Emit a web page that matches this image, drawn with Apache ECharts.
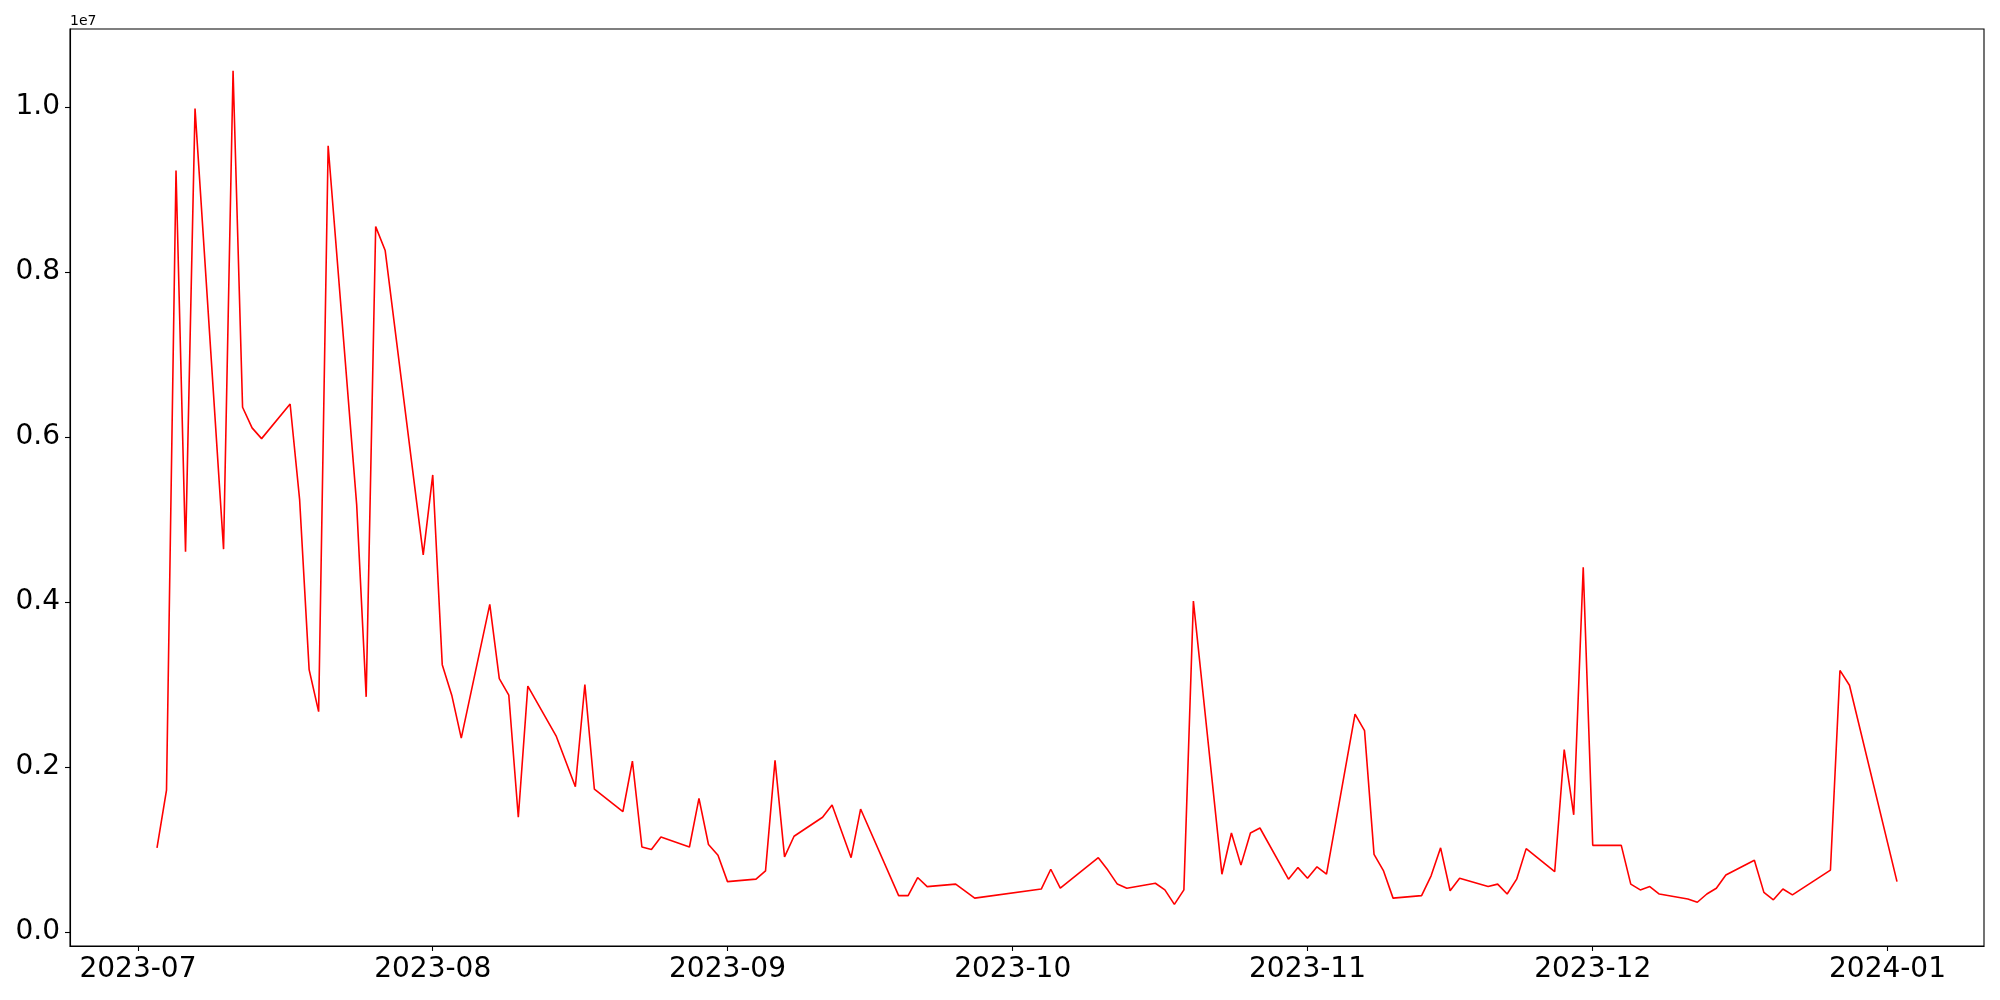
<!DOCTYPE html>
<html>
<head>
<meta charset="utf-8">
<script src="https://cdn.jsdelivr.net/npm/echarts@6/dist/echarts.min.js"></script>
<style>html,body{margin:0;padding:0;background:#fff;}#chart{width:2000px;height:1000px;}</style>
</head>
<body>
<div id="chart"></div>
<script>
const dates = [
'2023-07-03','2023-07-04','2023-07-05','2023-07-06','2023-07-07',
'2023-07-10','2023-07-11','2023-07-12','2023-07-13','2023-07-14',
'2023-07-17','2023-07-18','2023-07-19','2023-07-20','2023-07-21',
'2023-07-24','2023-07-25','2023-07-26','2023-07-27','2023-07-31',
'2023-08-01','2023-08-02','2023-08-03','2023-08-04',
'2023-08-07','2023-08-08','2023-08-09','2023-08-10','2023-08-11',
'2023-08-14','2023-08-16','2023-08-17','2023-08-18',
'2023-08-21','2023-08-22','2023-08-23','2023-08-24','2023-08-25',
'2023-08-28','2023-08-29','2023-08-30','2023-08-31','2023-09-01',
'2023-09-04','2023-09-05','2023-09-06','2023-09-07','2023-09-08',
'2023-09-11','2023-09-12','2023-09-14','2023-09-15',
'2023-09-19','2023-09-20','2023-09-21','2023-09-22',
'2023-09-25','2023-09-27',
'2023-10-04','2023-10-05','2023-10-06',
'2023-10-10','2023-10-11','2023-10-12','2023-10-13',
'2023-10-16','2023-10-17','2023-10-18','2023-10-19','2023-10-20',
'2023-10-23','2023-10-24','2023-10-25','2023-10-26','2023-10-27',
'2023-10-30','2023-10-31','2023-11-01','2023-11-02','2023-11-03',
'2023-11-06','2023-11-07','2023-11-08','2023-11-09','2023-11-10',
'2023-11-13','2023-11-14','2023-11-15','2023-11-16','2023-11-17',
'2023-11-20','2023-11-21','2023-11-22','2023-11-23','2023-11-24',
'2023-11-27','2023-11-28','2023-11-29','2023-11-30','2023-12-01',
'2023-12-04','2023-12-05','2023-12-06','2023-12-07','2023-12-08',
'2023-12-11','2023-12-12','2023-12-13','2023-12-14','2023-12-15',
'2023-12-18','2023-12-19','2023-12-20','2023-12-21','2023-12-22',
'2023-12-26','2023-12-27','2023-12-28','2024-01-02'
];
const values = [
1020000,1720000,9230000,4610000,9980000,
4640000,10440000,6360000,6110000,5980000,
6400000,5240000,3180000,2670000,9530000,
5180000,2850000,8550000,8260000,4570000,
5540000,3240000,2870000,2350000,
3970000,3070000,2870000,1390000,2980000,
2370000,1760000,3000000,1730000,
1460000,2070000,1030000,1000000,1150000,
1030000,1620000,1060000,930000,610000,
640000,740000,2080000,910000,1160000,
1390000,1540000,900000,1490000,
440000,440000,660000,550000,
580000,410000,
520000,760000,530000,
900000,750000,580000,530000,
590000,510000,335000,510000,4010000,
700000,1200000,810000,1200000,1260000,
640000,780000,650000,790000,700000,
2640000,2440000,940000,740000,410000,
440000,680000,1020000,500000,650000,
550000,580000,460000,640000,1010000,
730000,2210000,1420000,4420000,1050000,
1050000,580000,510000,550000,460000,
400000,360000,460000,530000,690000,
870000,480000,390000,520000,450000,
750000,3170000,2990000,610000
];
const xTickLabels = ['2023-07','2023-08','2023-09','2023-10','2023-11','2023-12','2024-01'];
const yTickValues = [0, 2000000, 4000000, 6000000, 8000000, 10000000];
const offsetLabel = '1e7';

function toTs(s){ const p = s.split('-').map(Number); return Date.UTC(p[0], p[1]-1, p[2]); }
const xs = dates.map(toTs);
const xTicks = xTickLabels.map(s => toTs(s + '-01'));
const xMinD = Math.min(...xs), xMaxD = Math.max(...xs);
const xPad = (xMaxD - xMinD) * 0.05;
const yMinD = Math.min(...values), yMaxD = Math.max(...values);
const yPad = (yMaxD - yMinD) * 0.05;
function fmtMonth(v){ const d = new Date(v); const m = d.getUTCMonth()+1; return d.getUTCFullYear() + '-' + (m<10?'0':'') + m; }

const chart = echarts.init(document.getElementById('chart'), null, {renderer:'canvas'});
const font = 'DejaVu Sans';
chart.setOption({
  animation: false,
  backgroundColor: '#fff',
  grid: {left: 70, right: 16, top: 29, bottom: 54, show: true, borderColor: '#000', borderWidth: 1.1, backgroundColor: 'transparent'},
  xAxis: {
    type: 'value', min: xMinD - xPad, max: xMaxD + xPad,
    axisLine: {show: true, onZero: false, lineStyle: {color: '#000', width: 1.1}},
    axisTick: {show: true, inside: false, length: 5, customValues: xTicks, lineStyle: {color: '#000', width: 1.1}},
    axisLabel: {customValues: xTicks, formatter: fmtMonth, fontSize: 28, color: '#000', fontFamily: font, margin: 10},
    splitLine: {show: false}
  },
  yAxis: {
    type: 'value', min: yMinD - yPad, max: yMaxD + yPad,
    axisLine: {show: true, onZero: false, lineStyle: {color: '#000', width: 1.1}},
    axisTick: {show: true, inside: false, length: 5, customValues: yTickValues, lineStyle: {color: '#000', width: 1.1}},
    axisLabel: {customValues: yTickValues, formatter: v => (v/1e7).toFixed(1), fontSize: 28, color: '#000', fontFamily: font, margin: 10},
    splitLine: {show: false}
  },
  graphic: [{type: 'text', left: 70, top: 14, style: {text: offsetLabel, fontSize: 14, fill: '#000', fontFamily: font}}],
  series: [{
    type: 'line',
    data: xs.map((x, i) => [x, values[i]]),
    showSymbol: false,
    lineStyle: {color: '#ff0000', width: 1.6},
    itemStyle: {color: '#ff0000'}
  }]
});
</script>
</body>
</html>
